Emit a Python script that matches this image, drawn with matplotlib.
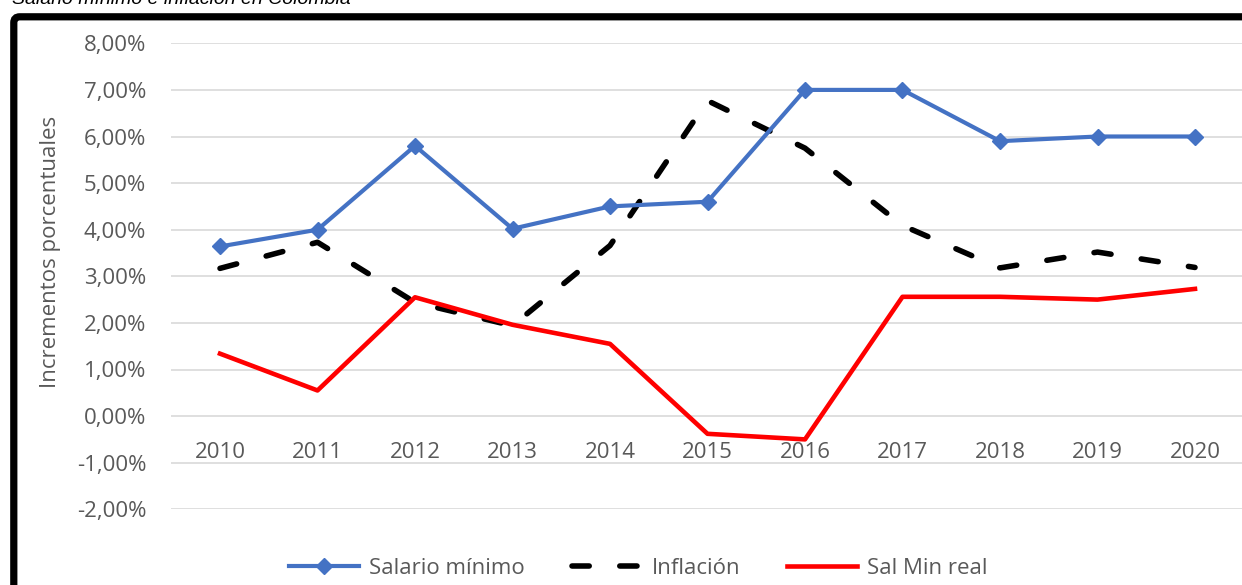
"""
Salario mínimo e inflación en Colombia (2010-2020)
Recreación del gráfico de líneas tipo Excel
"""

import matplotlib
matplotlib.use("Agg")
import matplotlib.pyplot as plt
from matplotlib.patches import FancyBboxPatch
from matplotlib.transforms import IdentityTransform
from matplotlib.ticker import FuncFormatter

# Datos
years = ["2010", "2011", "2012", "2013", "2014", "2015",
         "2016", "2017", "2018", "2019", "2020"]
salario_minimo = [3.64, 4.00, 5.80, 4.02, 4.50, 4.60, 7.00, 7.00, 5.90, 6.00, 6.00]
inflacion = [3.17, 3.73, 2.44, 1.94, 3.66, 6.77, 5.75, 4.09, 3.18, 3.52, 3.19]
sal_min_real = [1.34, 0.55, 2.55, 1.96, 1.55, -0.38, -0.50, 2.56, 2.56, 2.50, 2.73]

y_ticks = [-2, -1, 0, 1, 2, 3, 4, 5, 6, 7, 8]

# Estilo general
W, H = 1242, 585
DPI = 100
FONT = "Open Sans"
GRAY_TEXT = "#595959"
GRID = "#D9D9D9"
BLUE = "#4472C4"
RED = "#FF0000"

plt.rcParams["font.family"] = [FONT, "DejaVu Sans"]

fig = plt.figure(figsize=(W / DPI, H / DPI), dpi=DPI)

# Área del gráfico en píxeles (izq 171, der 1244, arriba 43, abajo 509)
left, right, top, bottom = 171.25, 1243.75, 43.3, 509.3
ax = fig.add_axes([left / W, 1 - bottom / H, (right - left) / W, (bottom - top) / H])

x = list(range(len(years)))

ax.plot(x, salario_minimo, color=BLUE, linewidth=3, marker="D", markersize=8.5,
        label="Salario mínimo", zorder=3)
ax.plot(x, inflacion, color="black", linewidth=4, dashes=(3.1, 5.5),
        dash_capstyle="round", label="Inflación", zorder=2)
ax.plot(x, sal_min_real, color=RED, linewidth=3.3, label="Sal Min real", zorder=2)

ax.set_xlim(-0.5, len(years) - 0.5)
ax.set_ylim(-2, 8)
ax.set_yticks(y_ticks)
ax.yaxis.set_major_formatter(FuncFormatter(lambda v, _: f"{v:.2f}%".replace(".", ",")))
ax.set_xticks(x)
ax.set_xticklabels(years)

# Líneas de cuadrícula horizontales, sin bordes
ax.grid(axis="y", color=GRID, linewidth=1.2)
ax.set_axisbelow(True)
for side in ["top", "right", "left", "bottom"]:
    ax.spines[side].set_visible(False)
ax.spines["bottom"].set_position(("data", 0))

ax.tick_params(axis="both", length=0, labelsize=16, labelcolor=GRAY_TEXT)
ax.tick_params(axis="y", pad=18)
ax.tick_params(axis="x", pad=19)

ax.set_ylabel("Incrementos porcentuales", fontsize=16, color=GRAY_TEXT)
ax.yaxis.set_label_coords((50 - left) / (right - left), (bottom - 252) / (bottom - top))
ax.yaxis.label.set_verticalalignment("center")

# Leyenda inferior
fig.legend(loc="center", bbox_to_anchor=(638.5 / W, 1 - 568 / H), ncol=3,
           frameon=False, fontsize=16, handlelength=3.15, handletextpad=0.45,
           columnspacing=2.1, labelcolor=GRAY_TEXT)

# Marco negro redondeado (parcialmente fuera de la imagen)
frame = FancyBboxPatch((13.8, -40), 1400, H - 16.8 + 40,
                       boxstyle="round,pad=0,rounding_size=6",
                       transform=IdentityTransform(), facecolor="none",
                       edgecolor="black", linewidth=5.2)
fig.add_artist(frame)

# Título cortado en la parte superior (como en la imagen original)
fig.text(12 / W, 1 - 4.3 / H, "Salario mínimo e inflación en Colombia",
         fontsize=14, style="italic", family="Liberation Sans", va="baseline")

fig.savefig("out.png", dpi=DPI)
